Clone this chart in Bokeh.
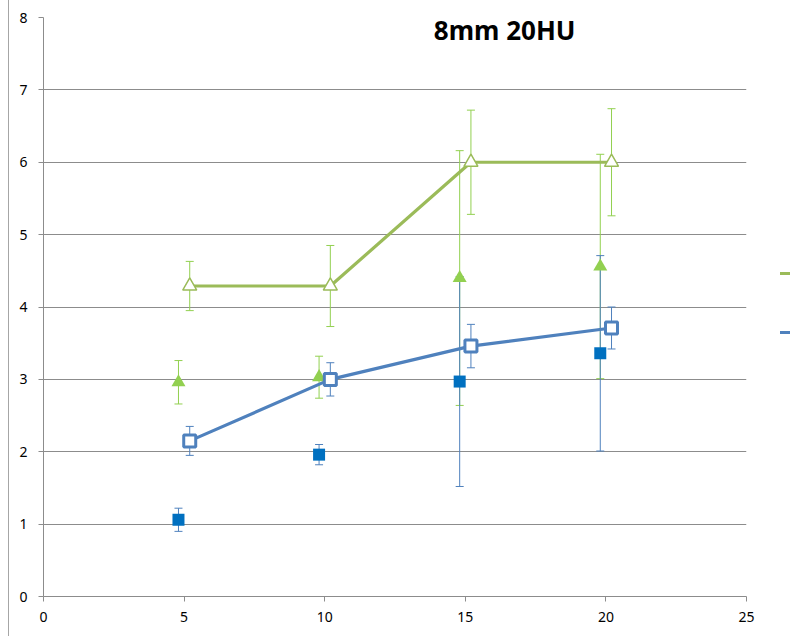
from bokeh.plotting import figure
from bokeh.layouts import row
from bokeh.models import (ColumnDataSource, Whisker, TeeHead, Label, Div,
                          FixedTicker, Range1d)
from bokeh.embed import file_html
from bokeh.resources import INLINE

# --- data -------------------------------------------------------------------
title_text = "8mm 20HU"
x_ticks = [0, 5, 10, 15, 20, 25]
y_ticks = [0, 1, 2, 3, 4, 5, 6, 7, 8]

# open-marker series sit just right of each dose, filled ones just left
x_open = [5.2, 10.2, 15.2, 20.2]
x_solid = [4.8, 9.8, 14.8, 19.8]

green_open = [4.29, 4.29, 6.0, 6.0]
green_open_err = [0.34, 0.56, 0.72, 0.74]

green_solid = [2.96, 3.03, 4.40, 4.56]
green_solid_err = [0.30, 0.29, 1.76, 1.55]

blue_open = [2.15, 3.00, 3.46, 3.71]
blue_open_err = [0.20, 0.23, 0.30, 0.29]

blue_solid = [1.06, 1.96, 2.97, 3.36]
blue_solid_err = [0.16, 0.14, 1.45, 1.35]

# --- colours ----------------------------------------------------------------
GREEN_LINE = "#9BBB59"
GREEN_FILL = "#92D050"
BLUE_LINE = "#4F81BD"
BLUE_FILL = "#0070C0"
GRID = "#8C8C8C"
EDGE = "#A6A6A6"
FONT = "Noto Sans"

EDGE_W = 9      # strip holding the chart-area edge on the left
KEYS_W = 10     # strip showing the start of the legend keys on the right
p = figure(width=790 - EDGE_W - KEYS_W, height=636,
           x_range=Range1d(0, 25), y_range=Range1d(0, 8),
           output_backend="svg", toolbar_location=None,
           min_border_left=43 - EDGE_W, min_border_right=790 - KEYS_W - 746,
           min_border_top=17, min_border_bottom=40, margin=0)
p.outline_line_color = None
p.background_fill_color = "white"
p.border_fill_color = "white"

p.xgrid.visible = False
p.ygrid.ticker = FixedTicker(ticks=y_ticks)
p.ygrid.grid_line_color = GRID
p.ygrid.grid_line_width = 1

for ax, ticks, standoff in ((p.xaxis[0], x_ticks, 10), (p.yaxis[0], y_ticks, 11)):
    ax.ticker = FixedTicker(ticks=ticks)
    ax.axis_line_color = GRID
    ax.major_tick_line_color = GRID
    ax.major_tick_out = 5
    ax.major_tick_in = 0
    ax.minor_tick_line_color = None
    ax.major_label_text_font = FONT
    ax.major_label_text_font_size = "14px"
    ax.major_label_text_color = "#000000"
    ax.major_label_standoff = standoff


def error_bars(x, y, err, color):
    src = ColumnDataSource(dict(x=x,
                                lower=[v - e for v, e in zip(y, err)],
                                upper=[v + e for v, e in zip(y, err)]))
    w = Whisker(source=src, base="x", lower="lower", upper="upper",
                line_color=color, line_width=1,
                upper_head=TeeHead(size=8, line_color=color, line_width=1),
                lower_head=TeeHead(size=8, line_color=color, line_width=1))
    p.add_layout(w)


error_bars(x_solid, green_solid, green_solid_err, GREEN_FILL)
error_bars(x_open, green_open, green_open_err, GREEN_FILL)
error_bars(x_solid, blue_solid, blue_solid_err, BLUE_LINE)
error_bars(x_open, blue_open, blue_open_err, BLUE_LINE)

# connected series
p.line(x_open, green_open, line_color=GREEN_LINE, line_width=3.2)
p.line(x_open, blue_open, line_color=BLUE_LINE, line_width=3.2)

# markers
p.scatter(x_solid, green_solid, marker="triangle", size=14,
          fill_color=GREEN_FILL, line_color=None)
p.scatter(x_solid, blue_solid, marker="square", size=12,
          fill_color=BLUE_FILL, line_color=None)
p.scatter(x_open, green_open, marker="triangle", size=14,
          fill_color="white", line_color=GREEN_LINE, line_width=1.5)
p.scatter(x_open, blue_open, marker="square", size=12,
          fill_color="white", line_color=BLUE_LINE, line_width=3)

p.add_layout(Label(x=16.4, y=7.83, text=title_text, text_align="center",
                   text_baseline="alphabetic", text_font=FONT,
                   text_font_style="bold", text_font_size="26px",
                   text_color="#000000"))

# thin chart-area edge on the left
edge = Div(text="", width=EDGE_W, height=636, margin=0,
           styles={"border-right": f"1px solid {EDGE}", "box-sizing": "border-box"})

# beginnings of the two line-series legend keys, cut off by the page edge
def key_bar(top, color):
    return (f'<div style="position:absolute;left:0;top:{top}px;width:{KEYS_W}px;'
            f'height:3px;background:{color}"></div>')

keys = Div(text=('<div style="position:relative;width:%dpx;height:636px">' % KEYS_W
                 + key_bar(272, GREEN_LINE) + key_bar(331, BLUE_LINE) + '</div>'),
           width=KEYS_W, height=636, margin=0)

layout = row(edge, p, keys, spacing=0, margin=0)
open("out.html", "w").write(file_html(layout, INLINE))
